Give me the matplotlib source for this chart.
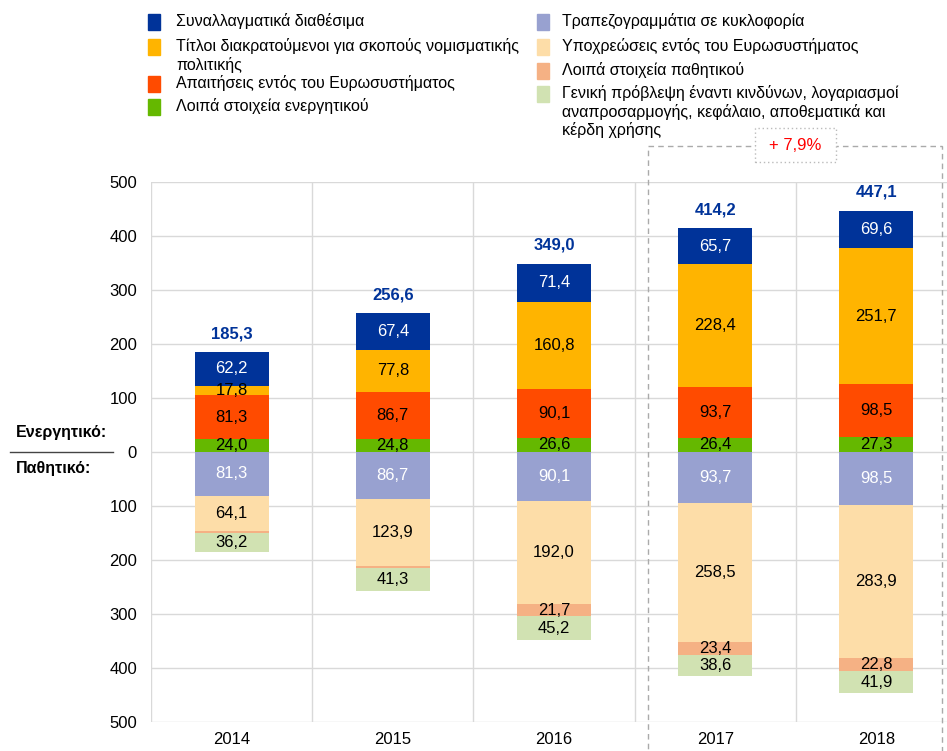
import matplotlib.pyplot as plt
from matplotlib.patches import Rectangle
import numpy as np

plt.rcParams['font.family'] = ['Liberation Sans', 'DejaVu Sans']

years = ["2014", "2015", "2016", "2017", "2018"]

# Ενεργητικό (από κάτω προς τα πάνω)
other_assets = [24.0, 24.8, 26.6, 26.4, 27.3]
intra_claims = [81.3, 86.7, 90.1, 93.7, 98.5]
securities = [17.8, 77.8, 160.8, 228.4, 251.7]
reserves = [62.2, 67.4, 71.4, 65.7, 69.6]

# Παθητικό (από πάνω προς τα κάτω)
banknotes = [81.3, 86.7, 90.1, 93.7, 98.5]
intra_liab = [64.1, 123.9, 192.0, 258.5, 283.9]
other_liab = [3.7, 4.7, 21.7, 23.4, 22.8]
provisions = [36.2, 41.3, 45.2, 38.6, 41.9]

totals = [185.3, 256.6, 349.0, 414.2, 447.1]

c_res = "#003399"
c_sec = "#FFB400"
c_claims = "#FF4B00"
c_oth_a = "#65B800"
c_bank = "#98A1D0"
c_intra_l = "#FDDDA8"
c_oth_l = "#F5B184"
c_prov = "#D1E2B2"

fig = plt.figure(figsize=(9.47, 7.51), dpi=100)
ax = fig.add_axes([151 / 947, 29 / 751, 806 / 947, 540 / 751])

x = np.arange(len(years))
w = 0.46
fs = 12

assets = [(other_assets, c_oth_a, "black"), (intra_claims, c_claims, "black"),
          (securities, c_sec, "black"), (reserves, c_res, "white")]
bottom = np.zeros(len(years))
for vals, col, tc in assets:
    vals = np.array(vals)
    ax.bar(x, vals, w, bottom=bottom, color=col, zorder=3)
    for i, v in enumerate(vals):
        ax.text(x[i], bottom[i] + v / 2, f"{v:.1f}".replace(".", ","),
                ha="center", va="center", fontsize=fs, color=tc, zorder=4)
    bottom += vals

liabs = [(banknotes, c_bank, "white"), (intra_liab, c_intra_l, "black"),
         (other_liab, c_oth_l, "black"), (provisions, c_prov, "black")]
top = np.zeros(len(years))
for vals, col, tc in liabs:
    vals = np.array(vals)
    ax.bar(x, -vals, w, bottom=-top, color=col, zorder=3)
    for i, v in enumerate(vals):
        if v > 10:
            ax.text(x[i], -top[i] - v / 2, f"{v:.1f}".replace(".", ","),
                    ha="center", va="center", fontsize=fs, color=tc, zorder=4)
    top += vals

for i, t in enumerate(totals):
    ax.text(x[i], t + 20, f"{t:.1f}".replace(".", ","), ha="center", va="bottom",
            fontsize=fs, fontweight="bold", color=c_res)

ax.set_xlim(-0.5, 4.5)
ax.set_ylim(-500, 500)
ticks = np.arange(-500, 501, 100)
ax.set_yticks(ticks)
ax.set_yticklabels([str(abs(t)) for t in ticks], fontsize=fs)
ax.set_xticks(x)
ax.set_xticklabels(years, fontsize=fs)
ax.tick_params(length=0, pad=10)
ax.tick_params(axis="x", pad=7)
for s in ax.spines.values():
    s.set_visible(False)
ax.grid(axis="y", color="#D9D9D9", linewidth=1, zorder=0)
for b in np.arange(-0.5, 5, 1):
    ax.axvline(b, color="#D9D9D9", linewidth=1, zorder=0)

# πλαίσιο 2017-2018
ax.add_patch(Rectangle((2.583, -700), 1.824, 1267, fill=False, linestyle=(0, (4, 3)),
                       edgecolor="#AAAAAA", linewidth=1, clip_on=False, zorder=5))
ax.add_patch(Rectangle((3.247, 537), 0.503, 63, facecolor="white", linestyle=(0, (1, 2)),
                       edgecolor="#BBBBBB", linewidth=1, clip_on=False, zorder=6))
ax.text(3.4985, 568, "+ 7,9%", color="red", fontsize=fs, ha="center", va="center",
        zorder=7, clip_on=False)

# ετικέτες αριστερά
fig.text(16 / 947, 1 - 432 / 751, "Ενεργητικό:", fontsize=11.5, fontweight="bold",
         va="center", ha="left")
fig.text(16 / 947, 1 - 468 / 751, "Παθητικό:", fontsize=11.5, fontweight="bold",
         va="center", ha="left")
fig.add_artist(plt.Line2D([10 / 947, 113 / 947], [1 - 452 / 751] * 2, color="#444444",
                          linewidth=1))

# υπόμνημα
left_items = [
    (c_res, "Συναλλαγματικά διαθέσιμα", 22),
    (c_sec, "Τίτλοι διακρατούμενοι για σκοπούς νομισματικής\nπολιτικής", 47),
    (c_claims, "Απαιτήσεις εντός του Ευρωσυστήματος", 84),
    (c_oth_a, "Λοιπά στοιχεία ενεργητικού", 107),
]
right_items = [
    (c_bank, "Τραπεζογραμμάτια σε κυκλοφορία", 22),
    (c_intra_l, "Υποχρεώσεις εντός του Ευρωσυστήματος", 47),
    (c_oth_l, "Λοιπά στοιχεία παθητικού", 71),
    (c_prov, "Γενική πρόβλεψη έναντι κινδύνων, λογαριασμοί\nαναπροσαρμογής, κεφάλαιο, αποθεματικά και\nκέρδη χρήσης", 94),
]
for items, mx, tx in [(left_items, 148, 176), (right_items, 537, 562)]:
    for col, label, yy in items:
        fig.add_artist(Rectangle((mx / 947, 1 - (yy + 8) / 751), 12 / 947, 16 / 751,
                                 color=col, transform=fig.transFigure))
        fig.text(tx / 947, 1 - (yy - 9) / 751, label, fontsize=11.5, va="top", ha="left",
                 linespacing=1.2)

plt.savefig("out.png", dpi=100)
